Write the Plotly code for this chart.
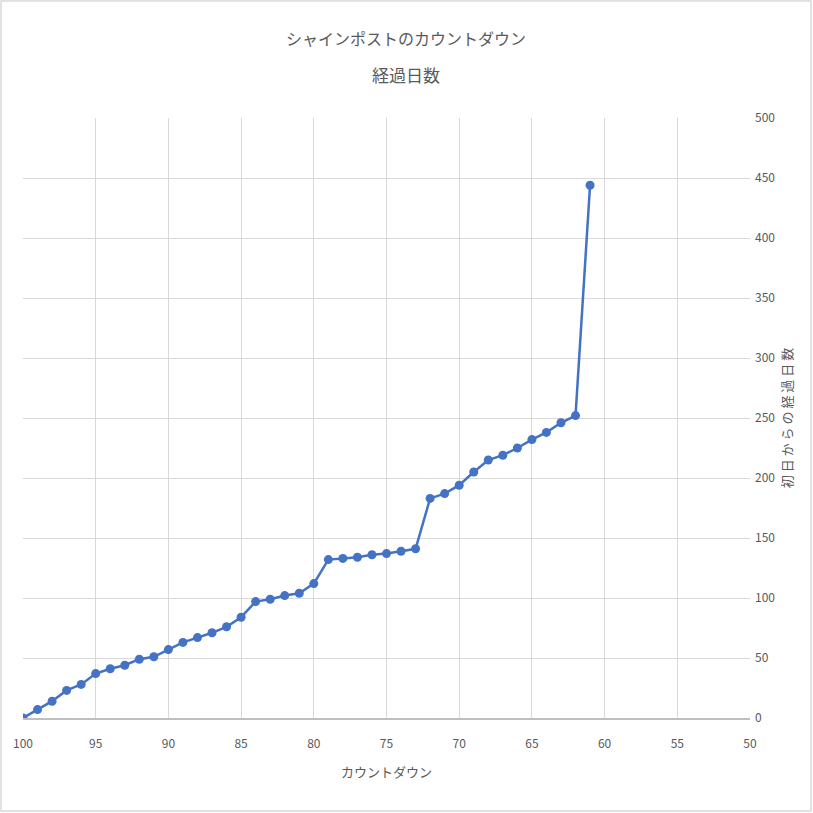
import plotly.graph_objects as go

countdown = list(range(100, 60, -1))
days = [0, 7, 14, 23, 28, 37, 41, 44, 49, 51,
        57, 63, 67, 71, 76, 84, 97, 99, 102, 104,
        112, 132, 133, 134, 136, 137, 139, 141, 183, 187,
        194, 205, 215, 219, 225, 232, 238, 246, 252, 444]

title1 = "シャインポストのカウントダウン"
title2 = "経過日数"
x_title = "カウントダウン"
y_title = "初 日 か ら の 経 過 日 数"

FONT = "Noto Sans CJK JP"
TXT = "#595959"
GRID = "#d9d9d9"
BLUE = "#4472C4"

fig = go.Figure()
fig.add_trace(go.Scatter(
    x=countdown, y=days, mode="lines+markers",
    line=dict(color=BLUE, width=2.5),
    marker=dict(color=BLUE, size=9, symbol="circle"),
    showlegend=False,
))

L, R, T, B = 23, 63, 118, 95
W = H = 813
pw, ph = W - L - R, H - T - B

def px(xp):
    return (xp - L) / pw

def py(yp):
    return (H - B - yp) / ph

fig.update_layout(
    width=W, height=H,
    margin=dict(l=L, r=R, t=T, b=B, autoexpand=False),
    paper_bgcolor="white", plot_bgcolor="white",
    font=dict(family=FONT, color=TXT, size=12),
    xaxis=dict(
        range=[100, 50], dtick=5, tick0=50,
        showgrid=True, gridcolor=GRID, gridwidth=1,
        showline=True, linecolor="#bfbfbf", linewidth=1.5,
        zeroline=False, ticks="", ticklabelstandoff=14,
        tickfont=dict(size=12, color=TXT),
        title=dict(text=x_title, font=dict(size=13, color=TXT), standoff=18),
    ),
    yaxis=dict(
        range=[0, 500], dtick=50, side="right",
        showgrid=True, gridcolor=GRID, gridwidth=1,
        showline=False, zeroline=False, ticks="", ticklabelstandoff=4,
        tickfont=dict(size=12, color=TXT),
        title=dict(text=y_title, font=dict(size=13, color=TXT), standoff=8),
    ),
    annotations=[
        dict(text=title1, xref="paper", yref="paper", x=px(406), y=py(38),
             showarrow=False, font=dict(size=16, color=TXT), xanchor="center", yanchor="middle"),
        dict(text=title2, xref="paper", yref="paper", x=px(406), y=py(75),
             showarrow=False, font=dict(size=17, color=TXT), xanchor="center", yanchor="middle"),
    ],
    shapes=[
        dict(type="rect", xref="paper", yref="paper",
             x0=px(1), x1=px(811), y0=py(811), y1=py(1),
             line=dict(color="#d9d9d9", width=1.5), fillcolor="rgba(0,0,0,0)", layer="below"),
    ],
)

fig.write_html("out.html", config={"displayModeBar": False},
               post_script="document.body.style.margin='0';document.body.style.overflow='hidden';")
